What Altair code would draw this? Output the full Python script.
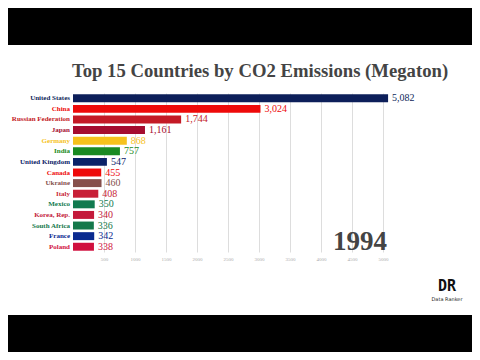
import altair as alt
import pandas as pd

countries = ["United States", "China", "Russian Federation", "Japan", "Germany",
             "India", "United Kingdom", "Canada", "Ukraine", "Italy", "Mexico",
             "Korea, Rep.", "South Africa", "France", "Poland"]
values = [5082, 3024, 1744, 1161, 868, 757, 547, 455, 460, 408, 350, 340, 336, 342, 338]
colors = ["#0d1f5a", "#ee0a0a", "#c41a26", "#a50d2f", "#f6c21c", "#1a8a22",
          "#0a2268", "#ee0a0a", "#86504c", "#c81f37", "#117a4f", "#c41a3b",
          "#14784a", "#0a2a90", "#d0103e"]
ticks = [500, 1000, 1500, 2000, 2500, 3000, 3500, 4000, 4500, 5000]
title_text = "Top 15 Countries by CO2 Emissions (Megaton)"
year = "1994"

df = pd.DataFrame({"country": countries, "value": values})
SERIF = "Liberation Serif"

color = alt.Color("country:N", scale=alt.Scale(domain=countries, range=colors), legend=None)
y = alt.Y("country:N", sort=countries, axis=None,
          scale=alt.Scale(paddingInner=0.25, paddingOuter=0.12))
x = alt.X("value:Q", scale=alt.Scale(domain=[0, 5000], nice=False),
          axis=alt.Axis(values=ticks, tickCount=20, title=None, grid=True, gridColor="#dddddd",
                        domain=False, ticks=False, labelFontSize=5, labelColor="#aaaaaa",
                        labelFont=SERIF, labelPadding=4, format="d",
                        labelOverlap=False, labelBound=False, labelFlush=False))

base = alt.Chart(df)
bars = base.mark_bar().encode(x=x, y=y, color=color)
vals = base.mark_text(align="left", baseline="middle", dx=4, font=SERIF, fontSize=10).encode(
    x=x, y=y, color=color, text=alt.Text("value:Q", format=","))
names = base.mark_text(align="right", baseline="middle", dx=-3, font=SERIF,
                       fontSize=7, fontWeight="bold").encode(
    x=alt.datum(0), y=y, color=color, text="country:N")

one = alt.Data(values=[{}])
band_top = alt.Chart(one).mark_rect(color="black").encode(
    x=alt.value(-65), x2=alt.value(399), y=alt.value(-85), y2=alt.value(-48))
band_bot = alt.Chart(one).mark_rect(color="black").encode(
    x=alt.value(-65), x2=alt.value(399), y=alt.value(222), y2=alt.value(259))
title = alt.Chart(one).mark_text(align="center", baseline="alphabetic", font=SERIF,
                                 fontSize=18.7, fontWeight="bold", color="#444444").encode(
    x=alt.value(187), y=alt.value(-16.3), text=alt.value(title_text))
yr = alt.Chart(one).mark_text(align="right", baseline="alphabetic", font=SERIF,
                              fontSize=27, fontWeight="bold", color="#444444").encode(
    x=alt.value(314), y=alt.value(157), text=alt.value(year))
logo = alt.Chart(one).mark_text(align="center", baseline="alphabetic", font="DejaVu Sans Mono",
                                fontSize=15, fontWeight="bold", color="#111111").encode(
    x=alt.value(374), y=alt.value(198), text=alt.value("DR"))
logo_txt = alt.Chart(one).mark_text(align="center", baseline="alphabetic", font="DejaVu Sans",
                                    fontSize=5, color="#222222").encode(
    x=alt.value(374), y=alt.value(207.5), text=alt.value("Data Ranker"))

chart = alt.layer(bars, vals, names, band_top, band_bot, title, yr, logo, logo_txt).properties(
    width=310, height=159, padding=0, background="white"
).configure_view(stroke=None)

chart.save("out.html", embed_options={"renderer": "svg", "actions": False})
